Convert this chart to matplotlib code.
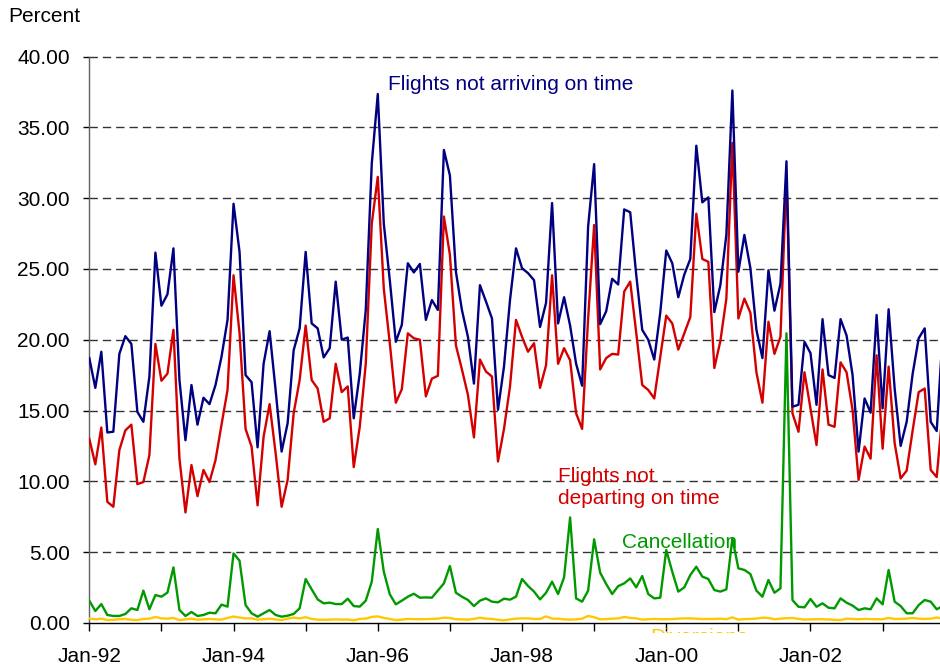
import matplotlib
matplotlib.use("Agg")
import matplotlib.pyplot as plt
import matplotlib.transforms as mtransforms
import pandas as pd

months = pd.date_range("1992-01-01", periods=143, freq="MS").strftime("%b-%y").tolist()

not_arriving = [
    18.7, 16.6, 19.15, 13.45, 13.5, 19.0, 20.25, 19.7, 14.9, 14.2, 17.4, 26.15,
    22.4, 23.2, 26.45, 17.15, 12.9, 16.8, 14.0, 15.9, 15.45, 16.8, 18.8, 21.4,
    29.6, 26.2, 17.5, 17.0, 12.4, 18.3, 20.6, 16.45, 12.1, 14.1, 19.25, 20.8,
    26.2, 21.15, 20.8, 18.75, 19.4, 24.1, 20.0, 20.15, 14.45, 17.6, 22.1, 32.45,
    37.35, 28.2, 24.2, 19.85, 21.05, 25.4, 24.75, 25.35, 21.4, 22.8, 22.1, 33.4,
    31.6, 24.8, 22.1, 20.2, 16.9, 23.85, 22.7, 21.5, 15.05, 18.1, 22.8, 26.45,
    25.05, 24.7, 24.2, 20.9, 22.6, 29.65, 21.15, 23.0, 21.0, 18.3, 16.75, 28.0,
    32.4, 21.1, 22.0, 24.3, 23.9, 29.2, 29.0, 24.6, 20.7, 20.0, 18.6, 21.9,
    26.3, 25.4, 23.0, 24.6, 25.7, 33.7, 29.7, 30.05, 21.95, 23.85, 27.4, 37.6,
    24.8, 27.4, 25.05, 20.7, 18.7, 24.9, 22.05, 23.95, 32.6, 15.27, 15.4, 19.85,
    19.05, 15.4, 21.45, 17.5, 17.3, 21.45, 20.3, 17.5, 12.1, 15.85, 14.85, 21.75,
    15.15, 22.15, 16.55, 12.5, 14.2, 17.6, 20.1, 20.8, 14.2, 13.55, 20.5,
]

not_departing = [
    13.0, 11.2, 13.8, 8.55, 8.2, 12.2, 13.6, 14.0, 9.8, 9.95, 11.85, 19.7,
    17.1, 17.6, 20.7, 11.6, 7.8, 11.15, 8.95, 10.8, 9.95, 11.5, 14.0, 16.45,
    24.55, 20.45, 13.7, 12.45, 8.3, 13.15, 15.45, 12.0, 8.2, 10.1, 14.8, 17.15,
    21.0, 17.15, 16.55, 14.2, 14.45, 18.3, 16.3, 16.7, 11.0, 13.85, 18.3, 28.2,
    31.5, 23.6, 19.75, 15.55, 16.5, 20.45, 20.1, 20.0, 16.0, 17.25, 17.45, 28.7,
    26.0, 19.6, 17.9, 16.1, 13.1, 18.6, 17.75, 17.4, 11.4, 13.7, 16.7, 21.4,
    20.2, 19.15, 19.75, 16.6, 18.2, 24.55, 18.3, 19.4, 18.55, 14.8, 13.7, 21.5,
    28.1, 17.9, 18.7, 19.0, 18.95, 23.4, 24.1, 20.5, 16.8, 16.45, 15.85, 18.8,
    21.7, 21.15, 19.3, 20.45, 21.6, 28.9, 25.7, 25.5, 18.0, 19.9, 22.9, 33.9,
    21.5, 22.9, 21.9, 17.7, 15.55, 21.27, 19.0, 20.2, 31.6, 14.8, 13.5, 17.7,
    15.15, 12.56, 17.9, 14.0, 13.85, 18.4, 17.7, 15.03, 10.1, 12.45, 11.6, 18.9,
    12.3, 18.1, 12.7, 10.2, 10.75, 13.6, 16.3, 16.55, 10.8, 10.3, 15.0,
]

cancellation = [
    1.57, 0.84, 1.33, 0.56, 0.49, 0.49, 0.63, 1.03, 0.91, 2.28, 0.96, 1.97,
    1.85, 2.14, 3.92, 0.91, 0.49, 0.77, 0.49, 0.56, 0.72, 0.68, 1.29, 1.15,
    4.91, 4.39, 1.26, 0.68, 0.44, 0.68, 0.91, 0.56, 0.44, 0.51, 0.63, 1.03,
    3.10, 2.37, 1.66, 1.38, 1.43, 1.33, 1.33, 1.71, 1.19, 1.15, 1.57, 2.91,
    6.63, 3.62, 2.02, 1.31, 1.57, 1.85, 2.06, 1.78, 1.80, 1.78, 2.28, 2.79,
    4.02, 2.13, 1.85, 1.62, 1.19, 1.57, 1.73, 1.50, 1.45, 1.71, 1.64, 1.85,
    3.10, 2.61, 2.21, 1.66, 2.13, 2.91, 2.04, 3.22, 7.45, 1.73, 1.50, 2.28,
    5.90, 3.55, 2.75, 2.04, 2.60, 2.79, 3.14, 2.51, 3.31, 2.04, 1.73, 1.78,
    5.15, 3.61, 2.21, 2.51, 3.38, 3.97, 3.27, 3.10, 2.32, 2.21, 2.37, 5.97,
    3.85, 3.74, 3.45, 2.28, 1.85, 3.03, 2.13, 2.44, 20.45, 1.61, 1.14, 1.10,
    1.69, 1.14, 1.38, 1.07, 1.03, 1.73, 1.43, 1.22, 0.91, 1.03, 0.96, 1.73,
    1.31, 3.74, 1.50, 1.19, 0.68, 0.68, 1.26, 1.62, 1.50, 0.96, 1.19,
]

diversions = [
    0.32, 0.25, 0.30, 0.20, 0.22, 0.26, 0.28, 0.22, 0.20, 0.28, 0.30, 0.42,
    0.32, 0.30, 0.35, 0.20, 0.25, 0.30, 0.23, 0.25, 0.28, 0.25, 0.23, 0.35,
    0.45, 0.38, 0.32, 0.32, 0.23, 0.26, 0.30, 0.25, 0.20, 0.30, 0.37, 0.32,
    0.40, 0.28, 0.23, 0.22, 0.23, 0.25, 0.23, 0.24, 0.18, 0.28, 0.30, 0.42,
    0.46, 0.35, 0.28, 0.20, 0.23, 0.28, 0.27, 0.26, 0.27, 0.28, 0.30, 0.37,
    0.35, 0.26, 0.25, 0.23, 0.28, 0.37, 0.30, 0.28, 0.22, 0.18, 0.25, 0.30,
    0.32, 0.32, 0.28, 0.28, 0.46, 0.30, 0.30, 0.25, 0.23, 0.25, 0.30, 0.49,
    0.40, 0.25, 0.27, 0.30, 0.32, 0.42, 0.35, 0.32, 0.23, 0.26, 0.28, 0.26,
    0.26, 0.27, 0.30, 0.32, 0.32, 0.30, 0.27, 0.28, 0.28, 0.30, 0.26, 0.39,
    0.23, 0.27, 0.28, 0.30, 0.37, 0.35, 0.26, 0.30, 0.33, 0.35, 0.28, 0.23,
    0.25, 0.26, 0.26, 0.24, 0.22, 0.20, 0.30, 0.28, 0.26, 0.28, 0.27, 0.26,
    0.26, 0.35, 0.28, 0.28, 0.30, 0.35, 0.30, 0.28, 0.30, 0.38, 0.30,
]

y_ticks = [0, 5, 10, 15, 20, 25, 30, 35, 40]

plt.rcParams["font.family"] = ["Liberation Sans", "DejaVu Sans"]

W, H = 940, 667
fig = plt.figure(figsize=(W / 100, H / 100), dpi=100)
x0, x1 = 89.3, 940.0
ytop, ybot = 56.5, 622.9
ax = fig.add_axes([x0 / W, 1 - ybot / H, (x1 - x0) / W, (ybot - ytop) / H])

x = list(range(len(months)))
px_per_month = 6.01

NAVY = "#000080"
RED = "#d40000"
GREEN = "#009a00"
YELLOW = "#ffc800"

for yv in y_ticks[1:]:
    ax.axhline(yv, color="#333333", lw=1.0, ls=(0, (6, 3.6)), zorder=1, clip_on=False)

ax.plot(x, diversions, color=YELLOW, lw=1.7, zorder=3)
ax.plot(x, cancellation, color=GREEN, lw=1.7, zorder=3)
ax.plot(x, not_departing, color=RED, lw=1.7, zorder=4)
ax.plot(x, not_arriving, color=NAVY, lw=1.7, zorder=5)

ax.set_xlim(0, (x1 - x0) / px_per_month)
ax.set_ylim(0, 40)

ax.set_yticks(y_ticks)
ax.set_yticklabels([f"{v:.2f}" for v in y_ticks])
jan_idx = [i for i, m in enumerate(months) if m.startswith("Jan")]
ax.set_xticks(jan_idx)
ax.set_xticklabels([months[i] if k % 2 == 0 else "" for k, i in enumerate(jan_idx)])

ax.tick_params(axis="y", length=4, width=1, pad=10, labelsize=15, colors="black")
ax.tick_params(axis="x", length=6, width=1, pad=11, labelsize=15, colors="black")

for s in ["top", "right"]:
    ax.spines[s].set_visible(False)
ax.spines["left"].set_color("#606060")
ax.spines["left"].set_linewidth(1.0)
ax.spines["bottom"].set_color("black")
ax.spines["bottom"].set_linewidth(1.0)
ax.spines["bottom"].set_zorder(6)

fig.text(8 / W, 1 - 17 / H, "Percent", fontsize=15, ha="left", va="center")

def xi(px):
    return (px - x0) / px_per_month

def yv(py):
    return (ybot - py) / ((ybot - ytop) / 40)

ax.text(xi(388), yv(84), "Flights not arriving on time", color=NAVY,
        fontsize=15, ha="left", va="center", zorder=7)
ax.text(xi(558), yv(487.5), "Flights not\ndeparting on time", color=RED,
        fontsize=15, ha="left", va="center", linespacing=1.2, zorder=7)
ax.text(xi(622), yv(543), "Cancellation", color=GREEN,
        fontsize=15, ha="left", va="center", zorder=7)

t = fig.text(650 / W, 1 - 642.7 / H, "Diversions", color=YELLOW,
             fontsize=15, ha="left", va="baseline")
clip_bb = mtransforms.TransformedBbox(
    mtransforms.Bbox.from_extents(0, (H - 633.3) / H, 1, 1), fig.transFigure)
t.set_clip_box(clip_bb)
t.set_clip_on(True)

fig.savefig("out.png", dpi=100)
